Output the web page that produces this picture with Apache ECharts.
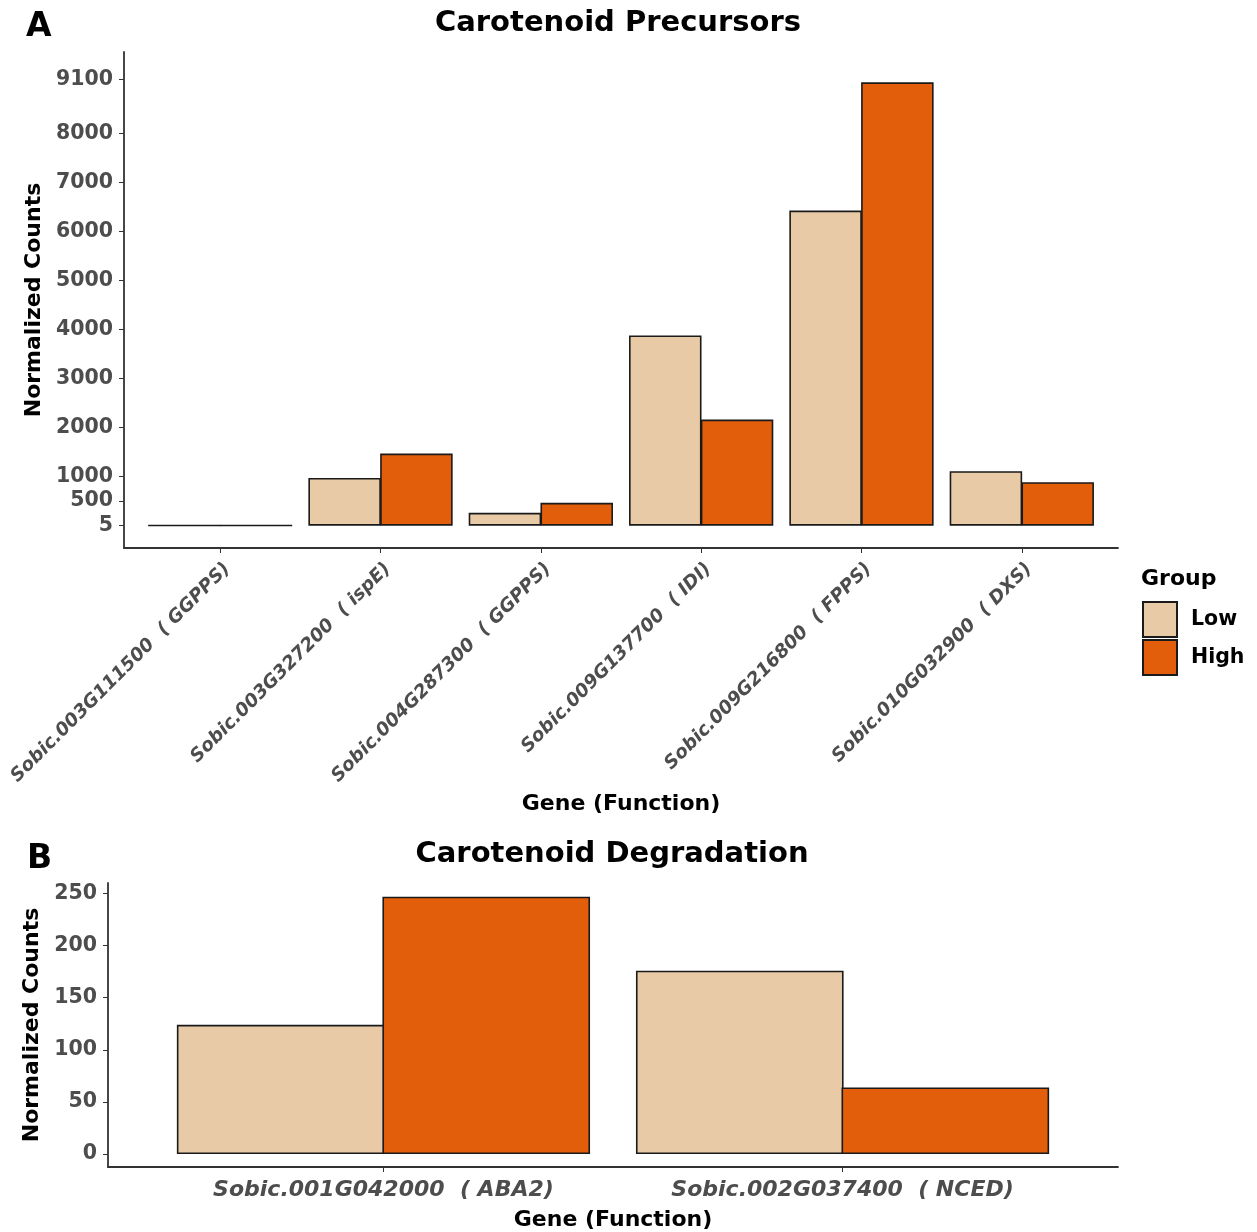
<!DOCTYPE html>
<html><head><meta charset="utf-8">
<script src="https://cdn.jsdelivr.net/npm/echarts@6/dist/echarts.min.js"></script>
<style>html,body{margin:0;padding:0;background:#fff}#c{width:1257px;height:1232px}</style>
</head><body><div id="c"></div>
<script>
const precursorGenes = ['Sobic.003G111500  ( GGPPS)', 'Sobic.003G327200  ( ispE)', 'Sobic.004G287300  ( GGPPS)', 'Sobic.009G137700  ( IDI)', 'Sobic.009G216800  ( FPPS)', 'Sobic.010G032900  ( DXS)'];
const precursorLow = [5, 975, 262, 3880, 6426, 1110];
const precursorHigh = [5, 1470, 466, 2163, 9041, 886];
const precursorTicks = [5, 500, 1000, 2000, 3000, 4000, 5000, 6000, 7000, 8000, 9100];
const degradationGenes = ['Sobic.001G042000  ( ABA2)', 'Sobic.002G037400  ( NCED)'];
const degradationLow = [124, 176];
const degradationHigh = [247, 64];
const degradationTicks = [0, 50, 100, 150, 200, 250];
const groups = ['Low', 'High'];

const F = 'DejaVu Sans';
const lowColor = '#E8CBA6', highColor = '#E35E0B', edge = '#1a1a1a', axisColor = '#333333', tickText = '#4d4d4d';
// rotated labels are anchored at their top-right corner (like ggplot hjust=1,vjust=1): small shift along the band
const rotatedLabelShift = 0.045;

function barSeries(name, vals, idx, color) {
  return {
    type: 'bar', name: name, xAxisIndex: idx, yAxisIndex: idx,
    data: vals.map(function (v, i) { return [i, v]; }),
    barGap: '-1%', barCategoryGap: '10%',
    itemStyle: { color: color, borderColor: edge, borderWidth: 1.6 },
    emphasis: { disabled: true }
  };
}
function idxList(arr) { return arr.map(function (_, i) { return i; }); }
function plain(v) { return String(v); }
const axisLine = { show: true, onZero: false, lineStyle: { color: axisColor, width: 1.8 } };
const nameStyle = { fontFamily: F, fontWeight: 'bold', fontSize: 22, color: '#000' };
const titleStyle = function (size) { return { fontFamily: F, fontWeight: 'bold', fontSize: size, color: '#000', lineHeight: size }; };

const chart = echarts.init(document.getElementById('c'), null, { renderer: 'canvas' });
chart.setOption({
  animation: false,
  backgroundColor: '#ffffff',
  title: [
    { text: 'Carotenoid Precursors', left: 618, top: 9, textAlign: 'center', padding: 0, textStyle: titleStyle(29) },
    { text: 'Carotenoid Degradation', left: 612, top: 840, textAlign: 'center', padding: 0, textStyle: titleStyle(29) },
    { text: 'A', left: 26, top: 11, padding: 0, textStyle: titleStyle(33) },
    { text: 'B', left: 27, top: 843, padding: 0, textStyle: titleStyle(33) },
    { text: 'Group', left: 1141, top: 568, padding: 0, textStyle: titleStyle(22) }
  ],
  legend: {
    data: groups, orient: 'vertical', left: 1142, top: 601, padding: 0,
    itemWidth: 34, itemHeight: 35, itemGap: 1, icon: 'rect', selectedMode: false,
    textStyle: { fontFamily: F, fontWeight: 'bold', fontSize: 20.5, color: '#000', padding: [0, 0, 0, 9] }
  },
  grid: [
    { left: 124, right: 139, top: 52, bottom: 684, outerBoundsMode: 'none', containLabel: false },
    { left: 108, right: 139, top: 883, bottom: 65, outerBoundsMode: 'none', containLabel: false }
  ],
  xAxis: [
    {
      gridIndex: 0, type: 'value', min: -0.6, max: 5.6, splitLine: { show: false }, axisLine: axisLine,
      axisTick: { show: true, customValues: idxList(precursorGenes), length: 5, lineStyle: { color: axisColor } },
      axisLabel: {
        customValues: idxList(precursorGenes).map(function (i) { return i + rotatedLabelShift; }),
        formatter: function (v) { return precursorGenes[Math.round(v)]; },
        rotate: 45, margin: 18, fontFamily: F, fontWeight: 'bold', fontStyle: 'italic', fontSize: 18.5, color: tickText
      },
      name: 'Gene (Function)', nameLocation: 'middle', nameGap: 245, nameTextStyle: nameStyle
    },
    {
      gridIndex: 1, type: 'value', min: -0.6, max: 1.6, splitLine: { show: false }, axisLine: axisLine,
      axisTick: { show: true, customValues: idxList(degradationGenes), length: 5, lineStyle: { color: axisColor } },
      axisLabel: {
        customValues: idxList(degradationGenes), formatter: function (v) { return degradationGenes[Math.round(v)]; },
        margin: 12, fontFamily: F, fontWeight: 'bold', fontStyle: 'italic', fontSize: 22, color: tickText
      },
      name: 'Gene (Function)', nameLocation: 'middle', nameGap: 42, nameTextStyle: nameStyle
    }
  ],
  yAxis: [
    {
      gridIndex: 0, type: 'value', min: -455, max: 9660, splitLine: { show: false }, axisLine: axisLine,
      axisTick: { show: true, customValues: precursorTicks, length: 5, lineStyle: { color: axisColor } },
      axisLabel: { customValues: precursorTicks, formatter: plain, margin: 11, fontFamily: F, fontWeight: 'bold', fontSize: 20.5, color: tickText },
      name: 'Normalized Counts', nameLocation: 'middle', nameRotate: 90, nameGap: 69, nameTextStyle: nameStyle
    },
    {
      gridIndex: 1, type: 'value', min: -12.4, max: 260.1, splitLine: { show: false }, axisLine: axisLine,
      axisTick: { show: true, customValues: degradationTicks, length: 5, lineStyle: { color: axisColor } },
      axisLabel: { customValues: degradationTicks, formatter: plain, margin: 11, fontFamily: F, fontWeight: 'bold', fontSize: 20.5, color: tickText },
      name: 'Normalized Counts', nameLocation: 'middle', nameRotate: 90, nameGap: 62, nameTextStyle: nameStyle
    }
  ],
  series: [
    barSeries('Low', precursorLow, 0, lowColor),
    barSeries('High', precursorHigh, 0, highColor),
    barSeries('Low', degradationLow, 1, lowColor),
    barSeries('High', degradationHigh, 1, highColor)
  ]
});
</script>
</body></html>
